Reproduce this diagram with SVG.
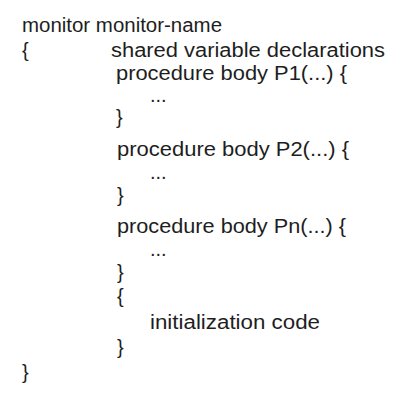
<svg xmlns="http://www.w3.org/2000/svg" width="403" height="411" viewBox="0 0 403 411">
<style>
text { font-family: "Liberation Sans", "DejaVu Sans", sans-serif; font-size: 20px; fill: #1e1e1e; }
</style>
<rect width="403" height="411" fill="#ffffff"/>
<g id="code">
<text x="22" y="32" textLength="200" lengthAdjust="spacingAndGlyphs">monitor monitor-name</text>
<text x="22" y="57">{</text>
<text x="111" y="57" textLength="274" lengthAdjust="spacingAndGlyphs">shared variable declarations</text>
<text x="116" y="80" textLength="231" lengthAdjust="spacingAndGlyphs">procedure body P1(...) {</text>
<text x="150" y="102">...</text>
<text x="116" y="124">}</text>
<text x="117" y="156" textLength="232" lengthAdjust="spacingAndGlyphs">procedure body P2(...) {</text>
<text x="150" y="179">...</text>
<text x="117" y="202">}</text>
<text x="117" y="233" textLength="229" lengthAdjust="spacingAndGlyphs">procedure body Pn(...) {</text>
<text x="150" y="256">...</text>
<text x="117" y="279">}</text>
<text x="117" y="303">{</text>
<text x="150" y="329" textLength="170" lengthAdjust="spacingAndGlyphs">initialization code</text>
<text x="117" y="354">}</text>
<text x="22" y="379">}</text>
</g>
</svg>
